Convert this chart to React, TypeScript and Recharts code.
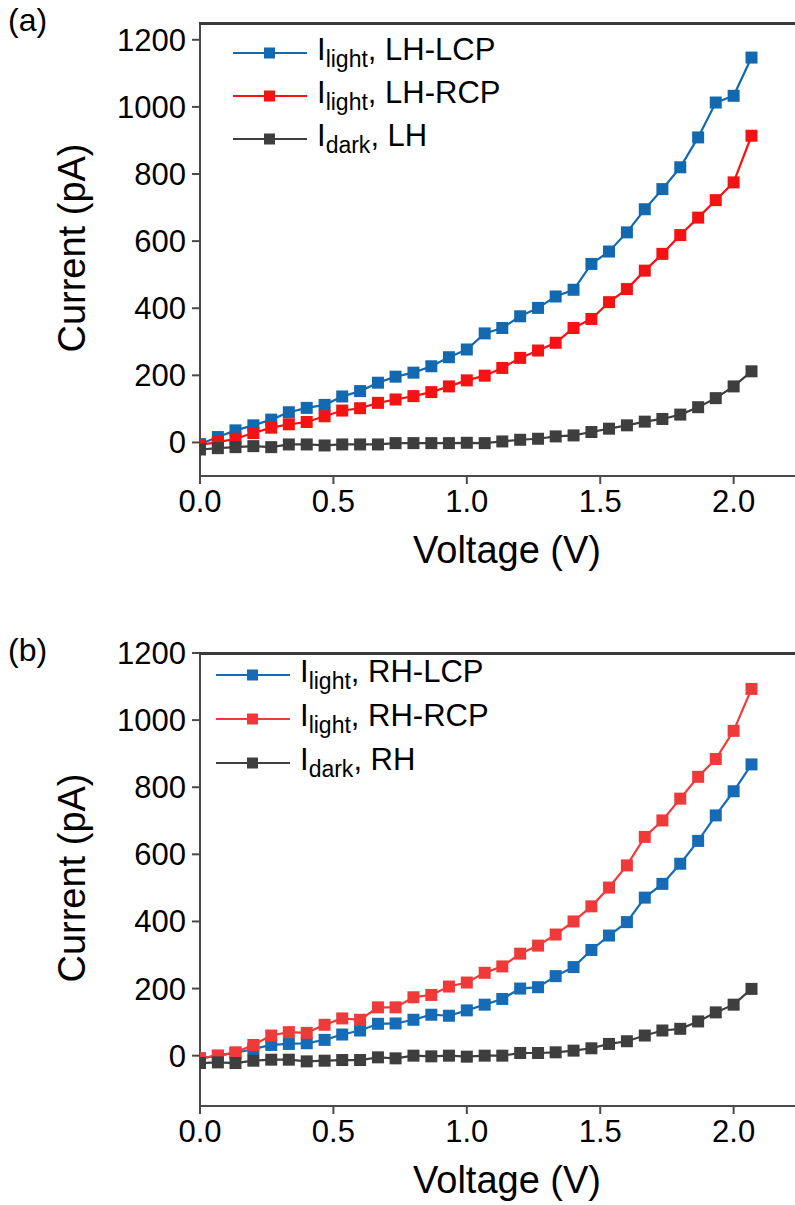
import React from 'react';
import { LineChart, Line, XAxis, YAxis } from 'recharts';

// voltage sweep (V), shared by both panels
const VOLTAGE = [
  0, 0.067, 0.133, 0.2, 0.267, 0.333, 0.4, 0.467, 0.533, 0.6, 0.667, 0.733, 0.8, 0.867, 0.933, 1.0,
  1.067, 1.133, 1.2, 1.267, 1.333, 1.4, 1.467, 1.533, 1.6, 1.667, 1.733, 1.8, 1.867, 1.933, 2.0, 2.067,
];

// panel (a) - LH
const A_LCP = [-5, 16, 36, 51, 68, 90, 103, 112, 137, 153, 178, 196, 208, 227, 254, 277, 325, 341, 376, 401, 435, 455, 532, 569, 626, 695, 755, 820, 909, 1013, 1033, 1147];
const A_RCP = [-7, 1, 11, 28, 44, 54, 61, 78, 95, 102, 118, 128, 138, 150, 167, 185, 199, 222, 252, 274, 297, 341, 368, 418, 457, 512, 562, 618, 670, 722, 775, 914];
const A_DARK = [-21, -17, -14, -11, -14, -6, -6, -9, -6, -6, -6, -2, -2, -2, -2, -1, -2, 3, 8, 11, 18, 21, 31, 41, 51, 62, 70, 83, 105, 132, 167, 212];

// panel (b) - RH
const B_LCP = [-8, 0, 8, 20, 32, 35, 37, 47, 63, 75, 95, 96, 107, 122, 119, 135, 152, 169, 200, 204, 237, 264, 315, 358, 398, 471, 512, 572, 640, 716, 788, 868];
const B_RCP = [-8, 0, 10, 32, 60, 70, 68, 92, 111, 107, 144, 144, 174, 181, 206, 218, 247, 266, 304, 328, 361, 400, 445, 501, 567, 652, 701, 766, 831, 884, 968, 1093];
const B_DARK = [-22, -20, -22, -15, -12, -12, -17, -15, -13, -13, -5, -8, 0, -2, 0, -3, 0, 0, 8, 8, 10, 15, 22, 35, 43, 60, 75, 80, 102, 129, 152, 199];

const X_TICKS = [0, 0.5, 1, 1.5, 2];
const X_MINOR = [0.25, 0.75, 1.25, 1.75, 2.25];
const Y_TICKS = [0, 200, 400, 600, 800, 1000, 1200];
const Y_MINOR = [-100, 100, 300, 500, 700, 900, 1100];

const FONT = '"Liberation Sans", Arial, sans-serif';
const AXIS = '#4a4a4a';

type Series = { key: string; sub: string; tag: string; color: string; values: number[] };

const squareDot = (color: string) => (props: any) => {
  const { cx, cy, index } = props;
  if (cx == null || cy == null) return <g key={index} />;
  return <rect key={index} x={cx - 6} y={cy - 6} width={12} height={12} fill={color} />;
};

function Panel({ tag, series, yDomain, top, legendX, legendY, rowGap }: {
  tag: string; series: Series[]; yDomain: [number, number]; top: number;
  legendX: number; legendY: number; rowGap: number;
}) {
  const rows = VOLTAGE.map((v, i) => {
    const r: Record<string, number> = { v };
    series.forEach((s) => { r[s.key] = s.values[i]; });
    return r;
  });

  return (
    <div style={{ position: 'absolute', left: 0, top, width: 795, height: 600 }}>
      <LineChart width={795} height={600} data={rows} margin={{ top: 23, right: 0, bottom: 64, left: 100 }}>
        <XAxis xAxisId="minor" dataKey="v" type="number" domain={[0, 2.23]} ticks={X_MINOR} allowDataOverflow
          height={0} tick={false} tickSize={5} axisLine={false} tickLine={{ stroke: AXIS, strokeWidth: 2 }} />
        <XAxis xAxisId="main" dataKey="v" type="number" domain={[0, 2.23]} ticks={X_TICKS} allowDataOverflow
          height={60} tickSize={8} tickMargin={6} tickFormatter={(t: number) => t.toFixed(1)}
          tick={{ fontSize: 31, fill: '#000', fontFamily: FONT }}
          axisLine={{ stroke: AXIS, strokeWidth: 2 }} tickLine={{ stroke: AXIS, strokeWidth: 2 }}
          label={{ content: () => <text x={507} y={563} textAnchor="middle" fontSize={38} fontFamily={FONT} fill="#000">Voltage (V)</text> }} />
        <YAxis yAxisId="minor" type="number" domain={yDomain} ticks={Y_MINOR} allowDataOverflow width={0}
          tick={false} tickSize={5} axisLine={false} tickLine={{ stroke: AXIS, strokeWidth: 2 }} />
        <YAxis yAxisId="main" type="number" domain={yDomain} ticks={Y_TICKS} allowDataOverflow width={100}
          tickSize={8} tickMargin={6} tick={{ fontSize: 31, fill: '#000', fontFamily: FONT }}
          axisLine={{ stroke: AXIS, strokeWidth: 2 }} tickLine={{ stroke: AXIS, strokeWidth: 2 }}
          label={{ content: () => (
            <g>
              <text x={85} y={248} transform="rotate(-90 85 248)" textAnchor="middle" fontSize={38} fontFamily={FONT} fill="#000">Current (pA)</text>
              <text x={8} y={31} fontSize={32} fontFamily={FONT} fill="#000">{tag}</text>
              <rect x={199} y={22} width={596} height={3} fill="#3a3a3a" />
            </g>
          ) }} />
        {series.map((s) => (
          <Line key={s.key} xAxisId="main" yAxisId="main" dataKey={s.key} stroke={s.color} strokeWidth={2.2}
            dot={squareDot(s.color)} activeDot={false} isAnimationActive={false} />
        ))}
      </LineChart>
      <div style={{ position: 'absolute', left: legendX, top: legendY, fontFamily: FONT, color: '#000' }}>
        {series.map((s) => (
          <div key={s.key} style={{ display: 'flex', alignItems: 'center', height: rowGap }}>
            <svg width={74} height={20} style={{ marginRight: 10 }}>
              <line x1={0} y1={10} x2={74} y2={10} stroke={s.color} strokeWidth={2.2} />
              <rect x={31} y={4.5} width={11} height={11} fill={s.color} />
            </svg>
            <span style={{ fontSize: 31, whiteSpace: 'nowrap', lineHeight: 1 }}>
              I<sub style={{ fontSize: 23 }}>{s.sub}</sub>, {s.tag}
            </span>
          </div>
        ))}
      </div>
    </div>
  );
}

export default function App() {
  const seriesA: Series[] = [
    { key: 'lcp', sub: 'light', tag: 'LH-LCP', color: '#1269b0', values: A_LCP },
    { key: 'rcp', sub: 'light', tag: 'LH-RCP', color: '#f41212', values: A_RCP },
    { key: 'dark', sub: 'dark', tag: 'LH', color: '#3e3e3e', values: A_DARK },
  ];
  const seriesB: Series[] = [
    { key: 'lcp', sub: 'light', tag: 'RH-LCP', color: '#156bb5', values: B_LCP },
    { key: 'rcp', sub: 'light', tag: 'RH-RCP', color: '#f03a3a', values: B_RCP },
    { key: 'dark', sub: 'dark', tag: 'RH', color: '#3e3e3e', values: B_DARK },
  ];
  return (
    <div style={{ position: 'absolute', left: 0, top: 0, width: 795, height: 1205, background: '#fff' }}>
      <Panel tag="(a)" series={seriesA} yDomain={[-100, 1250]} top={0} legendX={233} legendY={31} rowGap={43} />
      <Panel tag="(b)" series={seriesB} yDomain={[-150, 1200]} top={630} legendX={216} legendY={23} rowGap={44} />
    </div>
  );
}
